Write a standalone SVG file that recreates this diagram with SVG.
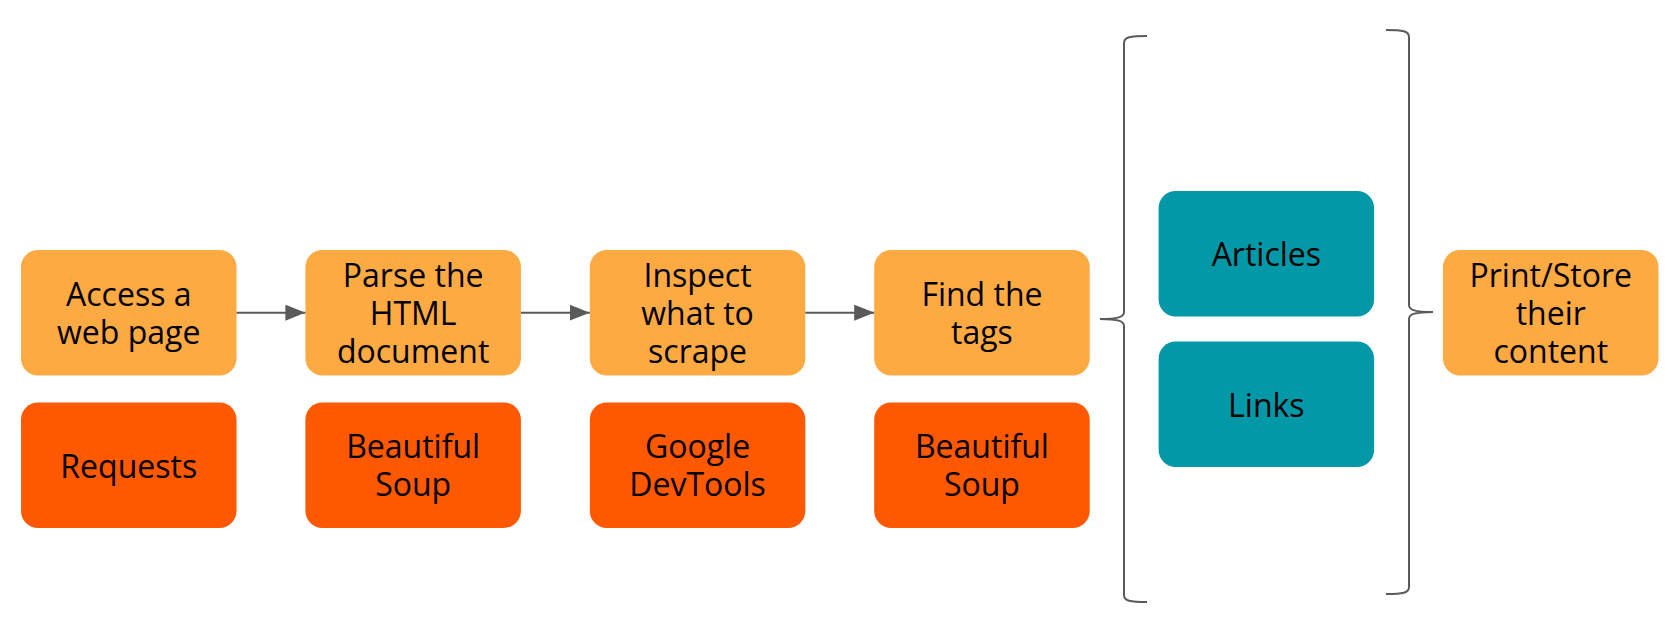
<svg xmlns="http://www.w3.org/2000/svg" width="1676" height="632" viewBox="0 0 1676 632">
<style>
.step{fill:#fdaa43}
.tool{fill:#fe5800}
.item{fill:#0398a8}
text{font-family:"Open Sans","DejaVu Sans",sans-serif;font-size:32px;fill:#000;text-anchor:middle}
.conn{stroke:#5a5a5a;stroke-width:2;fill:none}
</style>
<defs>
<marker id="arr" markerUnits="userSpaceOnUse" markerWidth="20" markerHeight="16" refX="20" refY="8" orient="auto">
<path d="M0,0 L20,8 L0,16 Z" fill="#5a5a5a"/>
</marker>
</defs>
<rect width="1676" height="632" fill="#fff"/>
<g id="n1"><rect class="step" x="21" y="250" width="215.5" height="125.5" rx="17"/><text x="128.75"><tspan x="128.75" y="305.5">Access a</tspan><tspan x="128.75" y="343.5">web page</tspan></text></g>
<g id="t1"><rect class="tool" x="21" y="402.5" width="215.5" height="125.5" rx="17"/><text x="128.75" y="477.5">Requests</text></g>
<g id="n2"><rect class="step" x="305.4" y="250" width="215.5" height="125.5" rx="17"/><text><tspan x="413.15" y="286.5">Parse the</tspan><tspan x="413.15" y="324.5">HTML</tspan><tspan x="413.15" y="362.5">document</tspan></text></g>
<g id="t2"><rect class="tool" x="305.4" y="402.5" width="215.5" height="125.5" rx="17"/><text><tspan x="413.15" y="458">Beautiful</tspan><tspan x="413.15" y="496">Soup</tspan></text></g>
<g id="n3"><rect class="step" x="589.8" y="250" width="215.5" height="125.5" rx="17"/><text><tspan x="697.55" y="286.5">Inspect</tspan><tspan x="697.55" y="324.5">what to</tspan><tspan x="697.55" y="362.5">scrape</tspan></text></g>
<g id="t3"><rect class="tool" x="589.8" y="402.5" width="215.5" height="125.5" rx="17"/><text><tspan x="697.55" y="458">Google</tspan><tspan x="697.55" y="496">DevTools</tspan></text></g>
<g id="n4"><rect class="step" x="874.2" y="250" width="215.5" height="125.5" rx="17"/><text><tspan x="981.95" y="305.5">Find the</tspan><tspan x="981.95" y="343.5">tags</tspan></text></g>
<g id="t4"><rect class="tool" x="874.2" y="402.5" width="215.5" height="125.5" rx="17"/><text><tspan x="981.95" y="458">Beautiful</tspan><tspan x="981.95" y="496">Soup</tspan></text></g>
<g id="articles"><rect class="item" x="1158.6" y="191" width="215.5" height="125.5" rx="17"/><text x="1266.35" y="266">Articles</text></g>
<g id="links"><rect class="item" x="1158.6" y="341.5" width="215.5" height="125.5" rx="17"/><text x="1266.35" y="416.5">Links</text></g>
<g id="n6"><rect class="step" x="1443" y="250" width="215.5" height="125.5" rx="17"/><text><tspan x="1550.75" y="286.5">Print/Store</tspan><tspan x="1550.75" y="324.5">their</tspan><tspan x="1550.75" y="362.5">content</tspan></text></g>
<g id="connectors">
<line class="conn" x1="236.5" y1="312.7" x2="305.4" y2="312.7" marker-end="url(#arr)"/>
<line class="conn" x1="520.9" y1="312.7" x2="589.8" y2="312.7" marker-end="url(#arr)"/>
<line class="conn" x1="805.3" y1="312.7" x2="874.2" y2="312.7" marker-end="url(#arr)"/>
<path class="conn" d="M1147,36 C1130,36 1124,37 1124,43 L1124,312 C1124,317 1118,319 1100,319 C1118,319 1124,321 1124,326 L1124,595 C1124,601 1130,602 1147,602"/>
<path class="conn" d="M1386,30 C1403,30 1409,31 1409,37 L1409,305 C1409,310 1415,312 1433,312 C1415,312 1409,314 1409,319 L1409,587 C1409,593 1403,594 1386,594"/>
</g>
</svg>
